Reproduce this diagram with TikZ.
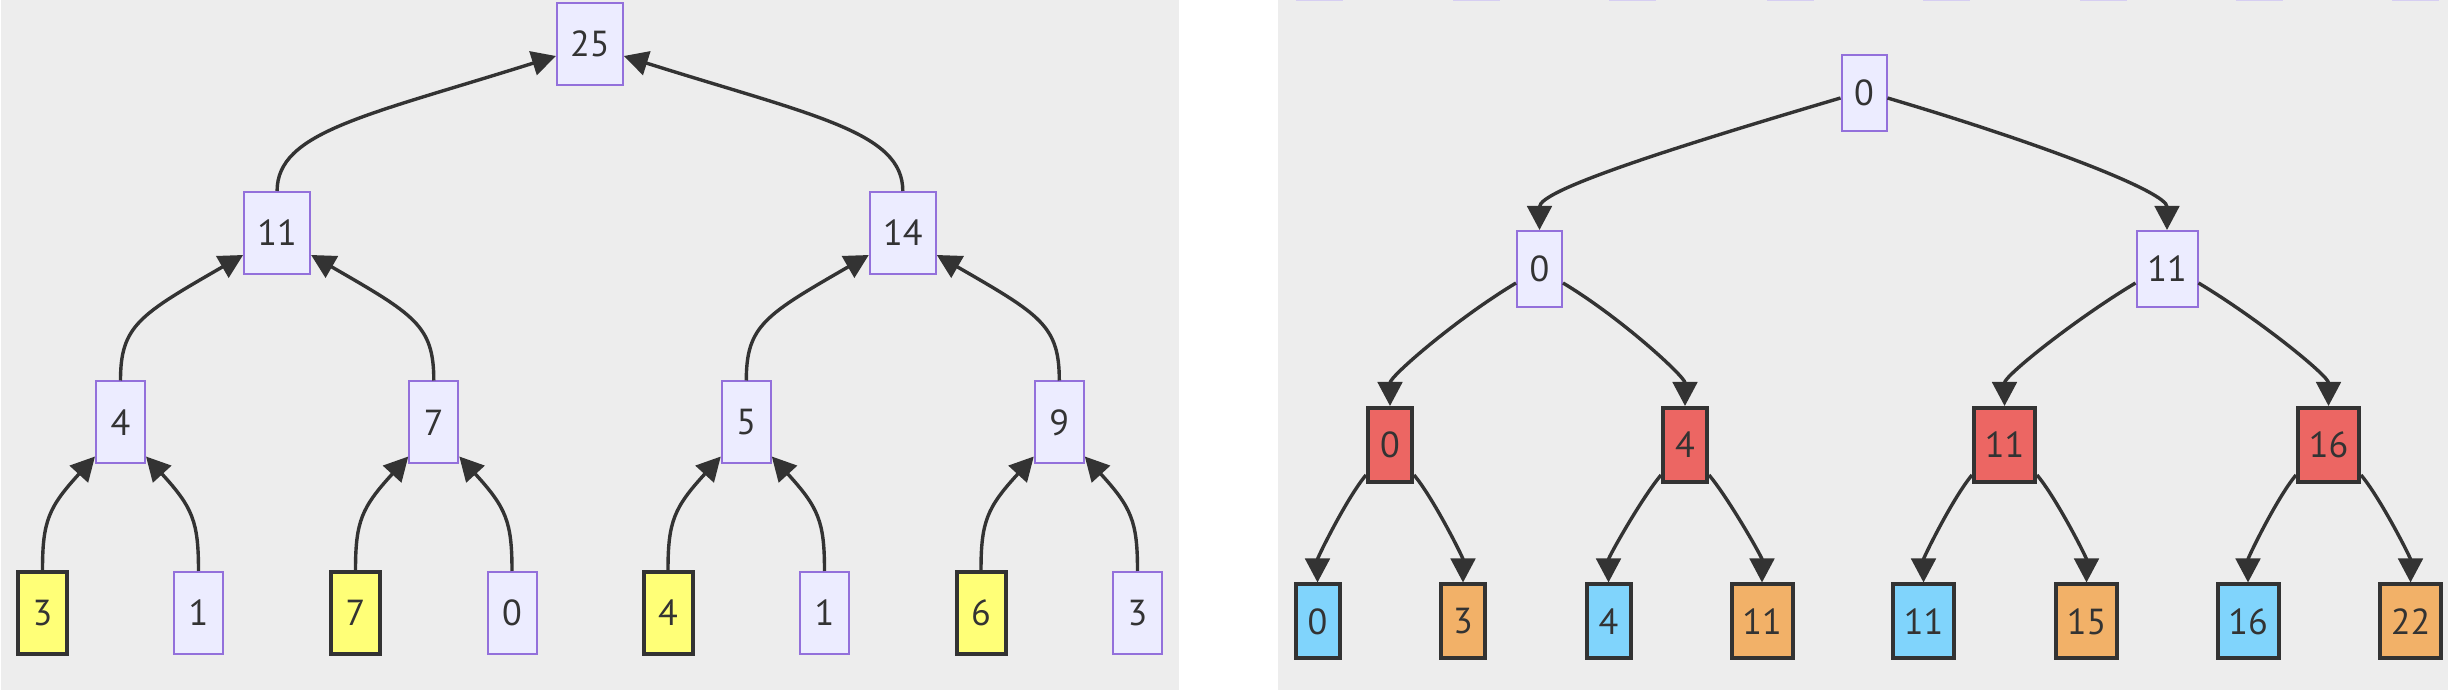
\documentclass[tikz,border=0pt]{standalone}
\usepackage{fontspec}
\setmainfont{PT Sans}
\definecolor{treegray}{RGB}{237,237,237}
\definecolor{treelilac}{RGB}{236,236,255}
\definecolor{treepurple}{RGB}{147,112,219}
\definecolor{treeink}{RGB}{51,51,51}
\definecolor{treeyellow}{RGB}{255,255,119}
\definecolor{treered}{RGB}{236,102,99}
\definecolor{treeblue}{RGB}{128,212,252}
\definecolor{treeorange}{RGB}{242,177,104}
\definecolor{treesliver}{RGB}{214,206,242}
\usepackage{tikz}
\usetikzlibrary{arrows.meta}

\tikzset{
  sumbox/.style={draw=treepurple, fill=treelilac, line width=0.02cm, minimum width=0.49cm, minimum height=0.82cm},
  hitbox/.style={draw=treeink, fill=treeyellow, line width=0.04cm, minimum width=0.49cm, minimum height=0.82cm},
  minbox/.style={draw=treepurple, fill=treelilac, line width=0.02cm, minimum width=0.45cm, minimum height=0.76cm},
  markbox/.style={draw=treeink, fill=#1, line width=0.04cm, minimum width=0.44cm, minimum height=0.74cm},
  wideL/.style={minimum width=0.66cm},
  wideR/.style={minimum width=0.61cm},
  link/.style={draw=treeink, line width=0.034cm, -{Triangle[length=0.24cm, width=0.245cm]}},
  rise/.style n args={3}{out=90, in=#1, out looseness=#2, in looseness=#3},
  fall/.style n args={3}{out=#1, in=90, out looseness=#2, in looseness=#3}
}

\begin{document}
\begin{tikzpicture}[every node/.style={font=\fontsize{10.3}{12}\selectfont, text=treeink, inner sep=0pt}]
    \useasboundingbox (0,0) rectangle (24.48,6.9);
    \fill[white] (0,0) rectangle (24.48,6.9);
    \fill[treegray] (0.01,0) rectangle (11.79,6.9);
    \fill[treegray] (12.78,0) rectangle (24.48,6.9);

    \fill[treesliver] (12.955,6.885) rectangle (13.425,6.9);
    \fill[treesliver] (14.525,6.885) rectangle (14.995,6.9);
    \fill[treesliver] (16.085,6.885) rectangle (16.555,6.9);
    \fill[treesliver] (17.665,6.885) rectangle (18.135,6.9);
    \fill[treesliver] (19.225,6.885) rectangle (19.695,6.9);
    \fill[treesliver] (20.795,6.885) rectangle (21.265,6.9);
    \fill[treesliver] (22.355,6.885) rectangle (22.825,6.9);
    \fill[treesliver] (23.915,6.885) rectangle (24.385,6.9);

    % sums
    \node[sumbox, wideL] (a1) at (5.899,6.46) {25};
    \node[sumbox, wideL] (a2) at (2.771,4.57) {11};
    \node[sumbox, wideL] (a3) at (9.028,4.57) {14};
    \node[sumbox] (a4) at (1.205,2.675) {4};
    \node[sumbox] (a5) at (4.338,2.675) {7};
    \node[sumbox] (a6) at (7.463,2.675) {5};
    \node[sumbox] (a7) at (10.593,2.675) {9};
    \node[hitbox] (a8) at (0.425,0.77) {3};
    \node[sumbox] (a9) at (1.985,0.77) {1};
    \node[hitbox] (a10) at (3.555,0.77) {7};
    \node[sumbox] (a11) at (5.12,0.77) {0};
    \node[hitbox] (a12) at (6.68,0.77) {4};
    \node[sumbox] (a13) at (8.245,0.77) {1};
    \node[hitbox] (a14) at (9.81,0.77) {6};
    \node[sumbox] (a15) at (11.375,0.77) {3};

    \draw[link] (a2.north) to[rise={197.5}{0.49}{1.64}] ([yshift=0.30cm]a1.south west);
    \draw[link] (a3.north) to[rise={-17.5}{0.49}{1.64}] ([yshift=0.30cm]a1.south east);
    \draw[link] (a4.north) to[rise={210}{0.8}{1.74}] ([yshift=0.20cm]a2.south west);
    \draw[link] (a5.north) to[rise={-30}{0.8}{1.74}] ([yshift=0.20cm]a2.south east);
    \draw[link] (a6.north) to[rise={210}{0.8}{1.74}] ([yshift=0.20cm]a3.south west);
    \draw[link] (a7.north) to[rise={-30}{0.8}{1.74}] ([yshift=0.20cm]a3.south east);
    \draw[link] (a8.north) to[rise={227.5}{1}{1.41}] ([yshift=0.08cm]a4.south west);
    \draw[link] (a9.north) to[rise={-47.5}{1}{1.41}] ([yshift=0.08cm]a4.south east);
    \draw[link] (a10.north) to[rise={227.5}{1}{1.41}] ([yshift=0.08cm]a5.south west);
    \draw[link] (a11.north) to[rise={-47.5}{1}{1.41}] ([yshift=0.08cm]a5.south east);
    \draw[link] (a12.north) to[rise={227.5}{1}{1.41}] ([yshift=0.08cm]a6.south west);
    \draw[link] (a13.north) to[rise={-47.5}{1}{1.41}] ([yshift=0.08cm]a6.south east);
    \draw[link] (a14.north) to[rise={227.5}{1}{1.41}] ([yshift=0.08cm]a7.south west);
    \draw[link] (a15.north) to[rise={-47.5}{1}{1.41}] ([yshift=0.08cm]a7.south east);

    % minima
    \node[minbox] (b1) at (18.64,5.97) {0};
    \node[minbox] (b2) at (15.395,4.21) {0};
    \node[minbox, wideR] (b3) at (21.67,4.21) {11};
    \node[markbox=treered] (b4) at (13.90,2.45) {0};
    \node[markbox=treered] (b5) at (16.85,2.45) {4};
    \node[markbox=treered, wideR] (b6) at (20.045,2.45) {11};
    \node[markbox=treered, wideR] (b7) at (23.285,2.45) {16};
    \node[markbox=treeblue] (b8) at (13.175,0.685) {0};
    \node[markbox=treeorange] (b9) at (14.63,0.685) {3};
    \node[markbox=treeblue] (b10) at (16.085,0.685) {4};
    \node[markbox=treeorange, wideR] (b11) at (17.62,0.685) {11};
    \node[markbox=treeblue, wideR] (b12) at (19.235,0.685) {11};
    \node[markbox=treeorange, wideR] (b13) at (20.865,0.685) {15};
    \node[markbox=treeblue, wideR] (b14) at (22.48,0.685) {16};
    \node[markbox=treeorange, wideR] (b15) at (24.105,0.685) {22};

    \draw[link] ([yshift=0.34cm]b1.south west) to[fall={196.5}{1.4}{0.31}] (b2.north);
    \draw[link] ([yshift=0.34cm]b1.south east) to[fall={-16.5}{1.4}{0.31}] (b3.north);
    \draw[link] ([yshift=0.25cm]b2.south west) to[fall={211}{1.01}{0.43}] (b4.north);
    \draw[link] ([yshift=0.25cm]b2.south east) to[fall={-31}{1.01}{0.43}] (b5.north);
    \draw[link] ([yshift=0.25cm]b3.south west) to[fall={211}{1.01}{0.43}] (b6.north);
    \draw[link] ([yshift=0.25cm]b3.south east) to[fall={-31}{1.01}{0.43}] (b7.north);
    \draw[link] ([yshift=0.09cm]b4.south west) to[fall={230}{0.65}{0.54}] (b8.north);
    \draw[link] ([yshift=0.09cm]b4.south east) to[fall={-50}{0.65}{0.54}] (b9.north);
    \draw[link] ([yshift=0.09cm]b5.south west) to[fall={230}{0.65}{0.54}] (b10.north);
    \draw[link] ([yshift=0.09cm]b5.south east) to[fall={-50}{0.65}{0.54}] (b11.north);
    \draw[link] ([yshift=0.09cm]b6.south west) to[fall={230}{0.65}{0.54}] (b12.north);
    \draw[link] ([yshift=0.09cm]b6.south east) to[fall={-50}{0.65}{0.54}] (b13.north);
    \draw[link] ([yshift=0.09cm]b7.south west) to[fall={230}{0.65}{0.54}] (b14.north);
    \draw[link] ([yshift=0.09cm]b7.south east) to[fall={-50}{0.65}{0.54}] (b15.north);
\end{tikzpicture}
\end{document}
